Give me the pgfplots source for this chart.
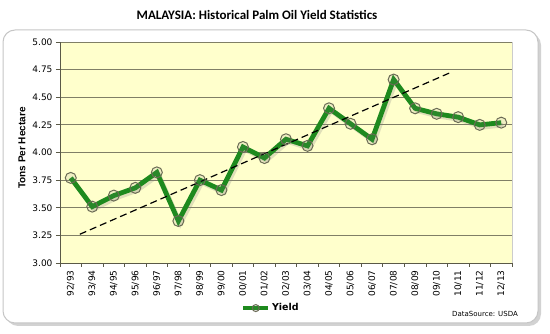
\documentclass[border=0pt]{standalone}
\usepackage{pgfplots}
\pgfplotsset{compat=1.18}
\usepackage{fontspec}
\setmainfont{DejaVu Sans}
\newfontfamily\titlefont{Carlito}
\newfontfamily\labfont{Liberation Sans}
\definecolor{bgy}{HTML}{FFFFCC}
\definecolor{gridc}{HTML}{807F66}
\definecolor{yg}{HTML}{1E8A1E}
\definecolor{mk}{HTML}{6B6B55}
\begin{document}
\begin{tikzpicture}[x=1pt,y=1pt]
\useasboundingbox (0,0) rectangle (550,334);
\fill[gray!35, rounded corners=12pt] (6,8) rectangle (541,301);
\filldraw[fill=white, draw=gray!45, line width=1pt, rounded corners=12pt] (3,11) rectangle (538,304);
\node[font=\titlefont\bfseries\fontsize{13}{15}\selectfont] at (257,319) {MALAYSIA: Historical Palm Oil Yield Statistics};
\node[font=\fontsize{7}{8}\selectfont] at (485,20) {DataSource: USDA};
\begin{axis}[at={(60pt,71pt)}, anchor=south west, width=452pt, height=221pt, scale only axis,
  xmin=-0.5, xmax=20.5, ymin=3, ymax=5,
  axis background/.style={fill=bgy},
  /pgf/number format/assume math mode=true,
  /pgf/number format/fixed, /pgf/number format/fixed zerofill, /pgf/number format/precision=2,
  ytick={3,3.25,3.5,3.75,4,4.25,4.5,4.75,5},
  yticklabel style={font=\fontsize{9}{10}\selectfont},
  xtick={0,...,20},
  xticklabels={92/93,93/94,94/95,95/96,96/97,97/98,98/99,99/00,00/01,01/02,02/03,03/04,04/05,05/06,06/07,07/08,08/09,09/10,10/11,11/12,12/13},
  xticklabel style={rotate=90, anchor=east, font=\fontsize{9}{10}\selectfont},
  minor xtick={-0.5,0.5,...,20.5},
  xtick style={draw=none},
  minor x tick style={draw=gridc!70!black, line width=0.8pt},
  minor tick length=4pt,
  y tick style={draw=gridc!70!black, line width=0.8pt},
  major tick length=4pt,
  tick align=outside,
  axis x line*=bottom, axis y line*=left,
  axis line style={draw=gridc!70!black, line width=0.8pt},
  ymajorgrids, grid style={draw=gridc, line width=0.8pt},
  ylabel={\labfont\bfseries Tons Per Hectare},
  ylabel style={at={(axis description cs:-0.084,0.52)}, anchor=center, font=\fontsize{10}{11}\selectfont},
  legend style={at={(axis description cs:0.467,-0.204)}, anchor=center, draw=none, fill=none,
    font=\bfseries\fontsize{9.5}{10}\selectfont},
  legend image code/.code={\draw[mark repeat=2,mark phase=2,#1, mark size=3.5pt, line width=3.5pt] plot coordinates {(0pt,0pt) (12.5pt,0pt) (25pt,0pt)};},
  clip=false,
]
\draw[gray!40, line width=0.8pt] (axis cs:20.5,3) -- (axis cs:20.5,5);
\addplot[gray, opacity=0.25, line width=4.5pt, xshift=2pt, yshift=-2.5pt, forget plot] coordinates {
(0,3.77)(1,3.51)(2,3.61)(3,3.68)(4,3.82)(5,3.38)(6,3.75)(7,3.66)(8,4.05)(9,3.95)(10,4.12)(11,4.06)(12,4.40)(13,4.26)(14,4.12)(15,4.66)(16,4.40)(17,4.35)(18,4.32)(19,4.25)(20,4.27)};
\addplot[yg, line width=4.8pt, mark=*, mark size=5.5pt, mark options={draw=mk, line width=1pt, fill=gray, fill opacity=0.12}] coordinates {
(0,3.77)(1,3.51)(2,3.61)(3,3.68)(4,3.82)(5,3.38)(6,3.75)(7,3.66)(8,4.05)(9,3.95)(10,4.12)(11,4.06)(12,4.40)(13,4.26)(14,4.12)(15,4.66)(16,4.40)(17,4.35)(18,4.32)(19,4.25)(20,4.27)};
\addlegendentry{Yield}
\addplot[black, line width=1.2pt, dash pattern=on 7pt off 4pt, forget plot] coordinates {(0.42,3.26)(17.6,4.72)};
\end{axis}
\end{tikzpicture}
\end{document}
